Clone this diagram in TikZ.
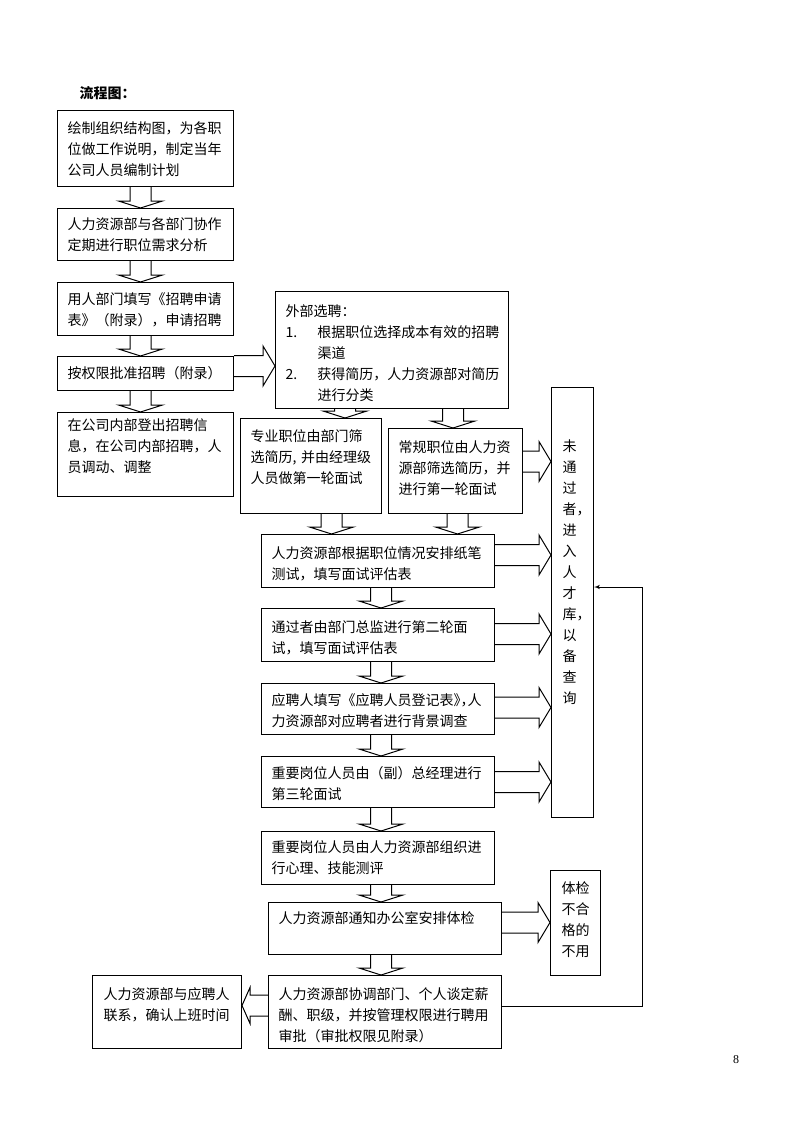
\documentclass[tikz,border=0pt]{standalone}
\usepackage{fontspec}
\newfontfamily\cjk{Noto Sans CJK SC}
\newfontfamily\cjkhalf[RawFeature=+halt]{Noto Sans CJK SC}
\newfontfamily\pagefont{Liberation Serif}
\usetikzlibrary{shapes, arrows, positioning, calc}

% hollow block arrows between two boxes
\newcommand{\blockdown}[3]{%
  \draw[block] let \p1=(#1.south), \p2=(#2.north) in
    ({#3pt-10.5pt},\y1) -- ({#3pt-10.5pt},{\y2+7pt}) -- ({#3pt-22pt},{\y2+7pt}) -- (#3pt,\y2)
    -- ({#3pt+22pt},{\y2+7pt}) -- ({#3pt+10.5pt},{\y2+7pt}) -- ({#3pt+10.5pt},\y1);}
\newcommand{\blockright}[3]{%
  \draw[block] let \p1=(#1.east), \p2=(#2.west) in
    (\x1,{#3pt+10.5pt}) -- ({\x2-12pt},{#3pt+10.5pt}) -- ({\x2-12pt},{#3pt+20pt}) -- (\x2,#3pt)
    -- ({\x2-12pt},{#3pt-20pt}) -- ({\x2-12pt},{#3pt-10.5pt}) -- (\x1,{#3pt-10.5pt});}
\newcommand{\blockleft}[3]{%
  \draw[block] let \p1=(#1.west), \p2=(#2.east) in
    (\x1,{#3pt+10.5pt}) -- ({\x2+8pt},{#3pt+10.5pt}) -- ({\x2+8pt},{#3pt+18pt}) -- (\x2,#3pt)
    -- ({\x2+8pt},{#3pt-18pt}) -- ({\x2+8pt},{#3pt-10.5pt}) -- (\x1,{#3pt-10.5pt});}

\begin{document}
\begin{tikzpicture}[x=1pt, y=1pt, node distance=21pt]
        % Define block styles
        \tikzstyle{box} = [rectangle, draw, line width=1pt, align=left, anchor=north west, inner xsep=10pt, inner ysep=0pt, text height=22pt, font=\cjk\fontsize{14}{21}\selectfont]
        \tikzstyle{block} = [draw, line width=1pt, line join=miter]
        \tikzstyle{line} = [draw, line width=1pt, -latex']

        \useasboundingbox (0,0) rectangle (800,-1132);

        % Nodes
        \node [anchor=west, font=\cjk\bfseries\fontsize{14}{17}\selectfont] (title) at (76,-93) {流程图：};

        \node [box, text width=156pt, text height=23pt, text depth=53pt] (plan) at (57,-110) {绘制组织结构图，为各职\\位做工作说明，制定当年\\公司人员编制计划};
        \node [box, below=of plan, text width=156pt, text height=21pt, text depth=31pt] (demand) {人力资源部与各部门协作\\定期进行职位需求分析};
        \node [box, below=of demand, text width=156pt, text depth=31pt] (apply) {用人部门填写《招聘申请\\表》（附录），申请招聘};
        \node [box, below=20pt of apply, text width=156pt, text depth=12pt] (approve) {按权限批准招聘（附录）};
        \node [box, below=of approve, text width=156pt, text height=18pt, text depth=66pt] (internal) {在公司内部登出招聘信\\息，在公司内部招聘，人\\员调动、调整};

        \node [box, text width=213pt, text height=25pt, text depth=92pt] (external) at (275,-291) {外部选聘：\\\makebox[32pt][l]{1.}根据职位选择成本有效的招聘\\\hspace*{32pt}渠道\\\makebox[32pt][l]{2.}获得简历，人力资源部对简历\\\hspace*{32pt}进行分类};
        \node [box, text width=121pt, text height=23pt, text depth=72pt] (special) at (240,-418) {专业职位由部门筛\\选简历, 并由经理级\\人员做第一轮面试};
        \node [box, text width=114pt, text height=24pt, text depth=61pt] (regular) at (388,-428) {常规职位由人力资\\源部筛选简历，并\\进行第一轮面试};
        \node [box, inner xsep=11pt, text width=20pt, text height=64pt, text depth=366pt] (pool) at (551,-387) {未\\通\\过\\者，\\进\\入\\人\\才\\库，\\以\\备\\查\\询};

        \node [box, text width=213pt, text height=24pt, text depth=29pt] (written) at (261,-534) {人力资源部根据职位情况安排纸笔\\测试，填写面试评估表};
        \node [box, below=20pt of written, text width=213pt, text height=24pt, text depth=29pt] (second) {通过者由部门总监进行第二轮面\\试，填写面试评估表};
        \node [box, below=of second, text width=213pt, text depth=29pt] (register) {应聘人填写《应聘人员登记表{\cjkhalf 》，}人\\力资源部对应聘者进行背景调查};
        \node [box, below=of register, text width=213pt, text depth=29pt] (vice) {重要岗位人员由（副）总经理进行\\第三轮面试};
        \node [box, below=23pt of vice, text width=213pt, text height=21pt, text depth=32pt] (assess) {重要岗位人员由人力资源部组织进\\行心理、技能测评};
        \node [box, text width=213pt, text height=21pt, text depth=31pt] (medical) at (268,-902) {人力资源部通知办公室安排体检};
        \node [box, inner xsep=11pt, text width=28pt, text height=23pt, text depth=82pt] (unfit) at (550,-870) {体检\\不合\\格的\\不用};
        \node [box, text width=213pt, text height=24pt, text depth=49pt] (salary) at (268,-975) {人力资源部协调部门、个人谈定薪\\酬、职级，并按管理权限进行聘用\\审批（审批权限见附录）};
        \node [box, inner xsep=11pt, text width=127pt, text height=24pt, text depth=49pt] (onboard) at (92,-975) {人力资源部与应聘人\\联系，确认上班时间};

        \node [font=\pagefont\fontsize{12}{14}\selectfont] (page) at (736,-1060) {8};

        % Paths
        \blockdown{plan}{demand}{140.5}
        \blockdown{demand}{apply}{140.5}
        \blockdown{apply}{approve}{140.5}
        \blockdown{approve}{internal}{140.5}
        \blockright{approve}{external}{-366}

        \blockdown{external}{special}{345}
        \blockdown{external}{regular}{453}
        \blockdown{special}{written}{331.5}
        \blockdown{regular}{written}{457.5}
        \blockdown{written}{second}{381}
        \blockdown{second}{register}{381}
        \blockdown{register}{vice}{381}
        \blockdown{vice}{assess}{381}
        \blockdown{assess}{medical}{381}
        \blockdown{medical}{salary}{381}

        \blockright{regular}{pool}{-461.5}
        \blockright{written}{pool}{-555}
        \blockright{second}{pool}{-634}
        \blockright{register}{pool}{-707.5}
        \blockright{vice}{pool}{-782}
        \blockright{medical}{unfit}{-922.5}
        \blockleft{salary}{onboard}{-1005.5}

        \coordinate (back) at (642,-587);
        \path [line] ([yshift=6pt]salary.east) -| (back) -- (back -| pool.east);

    \end{tikzpicture}
\end{document}
